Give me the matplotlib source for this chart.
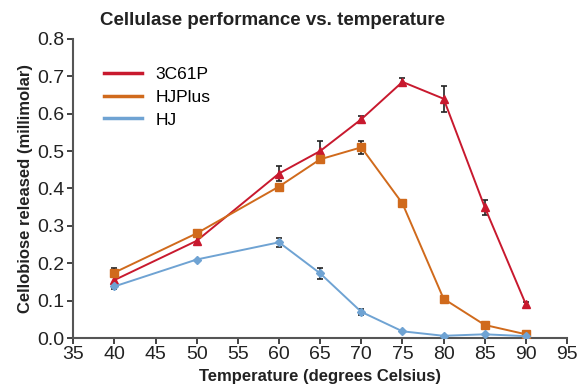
import matplotlib
matplotlib.use('Agg')
import matplotlib.pyplot as plt

plt.rcParams['font.family'] = ['Liberation Sans', 'DejaVu Sans']

# Datos
temps = [40, 50, 60, 65, 70, 75, 80, 85, 90]
c3c61p = [0.155, 0.26, 0.44, 0.50, 0.585, 0.685, 0.64, 0.35, 0.09]
c3c61p_err = [0.012, 0.01, 0.02, 0.028, 0.01, 0.01, 0.035, 0.02, 0.006]
hjplus = [0.175, 0.28, 0.405, 0.478, 0.51, 0.36, 0.105, 0.035, 0.01]
hjplus_err = [0.012, 0.008, 0.008, 0.01, 0.018, 0.0, 0.0, 0.0, 0.0]
hj = [0.138, 0.21, 0.256, 0.173, 0.07, 0.018, 0.006, 0.01, 0.005]
hj_err = [0.008, 0.0, 0.012, 0.015, 0.008, 0.0, 0.0, 0.0, 0.0]

xticks = list(range(35, 100, 5))
yticks = [0.0, 0.1, 0.2, 0.3, 0.4, 0.5, 0.6, 0.7, 0.8]

fig = plt.figure(figsize=(5.81, 3.89), dpi=100)
ax = fig.add_axes([0.126, 0.131, 0.850, 0.769])

series = [
    (c3c61p, c3c61p_err, '3C61P', '#c8192e', '^', 6),
    (hjplus, hjplus_err, 'HJPlus', '#d06a1c', 's', 6),
    (hj, hj_err, 'HJ', '#6fa3d3', 'D', 4),
]
for vals, err, lab, col, mk, ms in series:
    ax.errorbar(temps, vals, yerr=err, fmt='none', ecolor='#222222',
                elinewidth=1.2, capsize=2.5, capthick=1.2, zorder=2)
    ax.plot(temps, vals, color=col, marker=mk, markersize=ms, lw=1.4,
            label=lab, zorder=3)

ax.set_xlim(35, 95)
ax.set_ylim(0, 0.8)
ax.set_xticks(xticks)
ax.set_yticks(yticks)
ax.set_yticklabels([f'{v:.1f}' for v in yticks])
ax.tick_params(labelsize=14, colors='#222222', direction='out', length=4, width=1.2, pad=2)
for s in ['top', 'right']:
    ax.spines[s].set_visible(False)
for s in ['left', 'bottom']:
    ax.spines[s].set_color('#555555')
    ax.spines[s].set_linewidth(1.5)

ax.set_xlabel('Temperature (degrees Celsius)', fontsize=12, fontweight='bold',
              color='#222222', labelpad=4)
ax.set_ylabel('Cellobiose released (millimolar)', fontsize=12, fontweight='bold',
              color='#222222', labelpad=3)
fig.text(0.172, 0.948, 'Cellulase performance vs. temperature', fontsize=13.5,
         fontweight='bold', color='#222222', va='center')

leg = ax.legend(loc='upper left', bbox_to_anchor=(0.03, 0.96), frameon=False,
                fontsize=12.5, handlelength=2.2, handletextpad=0.8,
                labelspacing=0.45)
for h in leg.legend_handles:
    h.set_marker('')
    h.set_linewidth(2.5)

fig.savefig('out.png', dpi=100)
